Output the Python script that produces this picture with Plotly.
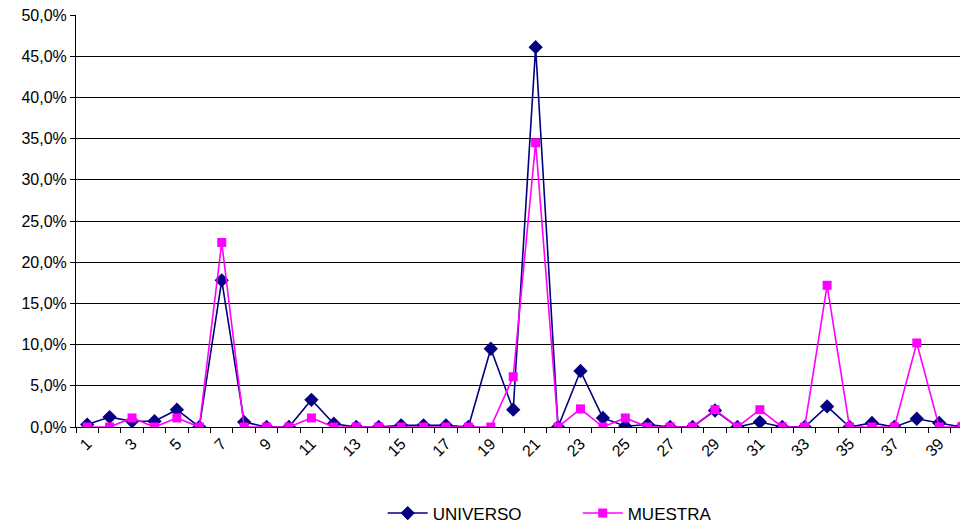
import plotly.graph_objects as go

categories = list(range(1, 41))
universo = [0.3, 1.2, 0.7, 0.7, 2.1, 0.0, 17.8, 0.6, 0.0, 0.0,
            3.3, 0.4, 0.0, 0.0, 0.2, 0.2, 0.2, 0.0, 9.5, 2.1,
            46.1, 0.0, 6.8, 1.1, 0.1, 0.3, 0.0, 0.0, 2.0, 0.0,
            0.6, 0.0, 0.0, 2.5, 0.0, 0.5, 0.0, 1.0, 0.5, 0.0]
muestra = [0.0, 0.0, 1.1, 0.0, 1.1, 0.0, 22.4, 0.0, 0.0, 0.0,
           1.1, 0.0, 0.0, 0.0, 0.0, 0.0, 0.0, 0.0, 0.0, 6.1,
           34.5, 0.0, 2.2, 0.0, 1.1, 0.0, 0.0, 0.0, 2.1, 0.0,
           2.1, 0.0, 0.0, 17.2, 0.0, 0.0, 0.0, 10.2, 0.0, 0.0]
tick_labels = [str(c) for c in categories if c % 2 == 1]
tick_positions = [c for c in categories if c % 2 == 1]

fig = go.Figure()
fig.add_trace(go.Scatter(
    x=categories, y=[v / 100 for v in universo], name="UNIVERSO",
    mode="lines+markers",
    line=dict(color="#000080", width=1.6),
    marker=dict(symbol="diamond", size=11, color="#000080"),
))
fig.add_trace(go.Scatter(
    x=categories, y=[v / 100 for v in muestra], name="MUESTRA",
    mode="lines+markers",
    line=dict(color="#FF00FF", width=1.6),
    marker=dict(symbol="square", size=9, color="#FF00FF"),
))

font_family = "Liberation Sans, Arial, sans-serif"
# the page body adds an 8px offset, so the figure is sized to fit the window
fig.update_layout(
    width=960, height=521,
    margin=dict(l=68, r=3, t=7, b=102, autoexpand=False),
    paper_bgcolor="white", plot_bgcolor="white",
    separators=",.",
    font=dict(family=font_family, size=15, color="black"),
    showlegend=True,
    legend=dict(orientation="h", x=0.345, xanchor="left", y=-0.21, yanchor="middle",
                font=dict(size=17), entrywidth=140, itemwidth=40),
    xaxis=dict(
        range=[0.5, 40.15], tickmode="array", tickvals=tick_positions, ticktext=tick_labels,
        tickangle=-45, ticks="", showgrid=False, zeroline=False, automargin=False,
        showline=True, linecolor="black", linewidth=1,
        tickfont=dict(size=16), ticklabeloverflow="allow",
        minor=dict(tickmode="linear", tick0=0.5, dtick=1, ticks="outside", ticklen=5,
                   tickcolor="black", showgrid=False),
    ),
    yaxis=dict(
        range=[0, 0.5001], tickmode="linear", tick0=0, dtick=0.05, tickformat=".1%",
        automargin=False, ticklabeloverflow="allow",
        ticks="outside", ticklen=5, tickcolor="black",
        showgrid=True, gridcolor="#000000", gridwidth=1,
        zeroline=False, showline=True, linecolor="black", linewidth=1,
        tickfont=dict(size=16),
    ),
)

fig.write_html("out.html")
